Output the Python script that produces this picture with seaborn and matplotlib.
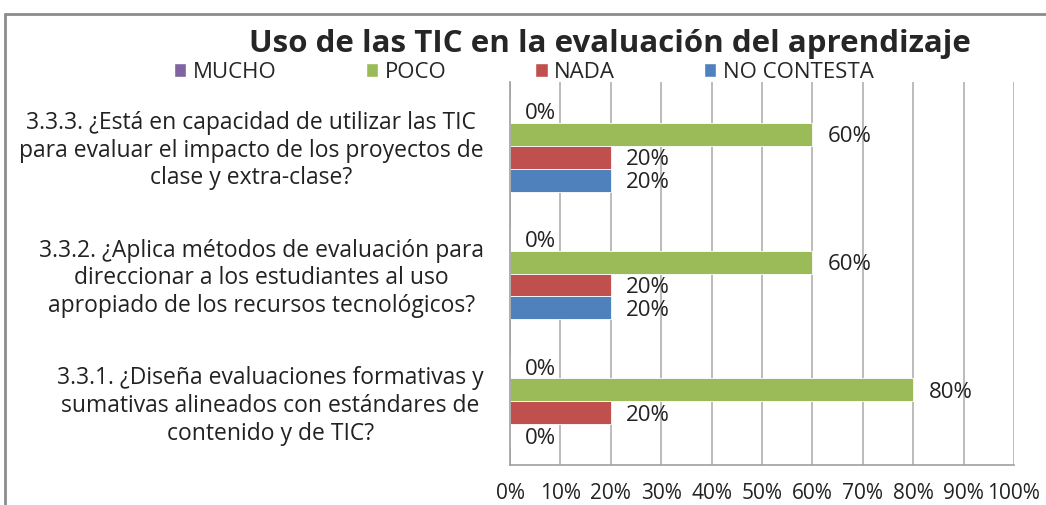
import numpy as np
import pandas as pd
import matplotlib
matplotlib.use("Agg")
import matplotlib.pyplot as plt
from matplotlib.lines import Line2D
from matplotlib.patches import Patch
import seaborn as sns

# ── Data ──────────────────────────────────────────────────────────────────────
questions = [
    "3.3.3. ¿Está en capacidad de utilizar las TIC\npara evaluar el impacto de los proyectos de\nclase y extra-clase?",
    "3.3.2. ¿Aplica métodos de evaluación para\ndireccionar a los estudiantes al uso\napropiado de los recursos tecnológicos?",
    "3.3.1. ¿Diseña evaluaciones formativas y\nsumativas alineados con estándares de\ncontenido y de TIC?",
]
levels = ["MUCHO", "POCO", "NADA", "NO CONTESTA"]
mucho = [0.0, 0.0, 0.0]
poco = [0.6, 0.6, 0.8]
nada = [0.2, 0.2, 0.2]
no_contesta = [0.2, 0.2, 0.0]
x_ticks = [0, 0.1, 0.2, 0.3, 0.4, 0.5, 0.6, 0.7, 0.8, 0.9, 1.0]

palette = ["#8064A2", "#9BBB59", "#C0504D", "#4F81BD"]

df = pd.DataFrame({
    "pregunta": questions * 4,
    "respuesta": np.repeat(levels, len(questions)),
    "valor": mucho + poco + nada + no_contesta,
})

# ── Plot ──────────────────────────────────────────────────────────────────────
sns.set_style("white")
plt.rcParams["font.family"] = ["Open Sans", "DejaVu Sans"]

fig = plt.figure(figsize=(10.46, 5.05), dpi=100)
ax = fig.add_axes([0.4876, 0.0792, 0.4818, 0.7584])

sns.barplot(
    data=df, y="pregunta", x="valor", hue="respuesta",
    order=questions, hue_order=levels, palette=palette,
    orient="h", width=0.72, saturation=1, legend=False,
    edgecolor="white", linewidth=0.6, ax=ax,
)

# value labels, sitting a touch below bar centre like the Excel original
for cont in ax.containers:
    vals = [b.get_width() for b in cont]
    texts = ax.bar_label(cont, labels=[f"{v:.0%}" for v in vals], padding=11,
                         fontsize=16, color="#222222")
    for t in texts:
        t.set_y(t.get_position()[1])
        t.set_va("center_baseline")

ax.set_xlim(0, 1)
ax.set_xticks(x_ticks)
ax.set_xticklabels([f"{t:.0%}" for t in x_ticks], fontsize=15, color="#222222")
ax.xaxis.grid(True, color="#b0b0b0", linewidth=1.2)
ax.set_axisbelow(True)
ax.set_xlabel("")
ax.set_ylabel("")
ax.tick_params(axis="x", length=5, color="#a0a0a0", width=1.2, pad=8)
ax.tick_params(axis="y", length=0, pad=19)
for lbl in ax.get_yticklabels():
    lbl.set_multialignment("center")
    lbl.set_fontsize(16.5)
    lbl.set_color("#222222")

for side in ["top", "right"]:
    ax.spines[side].set_visible(False)
ax.spines["bottom"].set_color("#a0a0a0")
ax.spines["left"].set_color("#a0a0a0")
ax.spines["bottom"].set_linewidth(1.2)
ax.spines["left"].set_linewidth(1.2)

fig.text(0.583, 0.913, "Uso de las TIC en la evaluación del aprendizaje",
         ha="center", va="center", fontsize=22.5, fontweight="bold")

handles = [Patch(facecolor=c) for c in palette]
fig.legend(handles, levels, ncol=4, loc="center", bbox_to_anchor=(0.501, 0.857),
           frameon=False, fontsize=16, handlelength=0.55, handleheight=0.55,
           handletextpad=0.3, columnspacing=4.0, borderpad=0)

# chart frame (top and left edges visible)
fig.add_artist(Line2D([0.005, 1.0], [0.972, 0.972], color="#8c8c8c", linewidth=2))
fig.add_artist(Line2D([0.005, 0.005], [0.0, 0.972], color="#8c8c8c", linewidth=2))

fig.savefig("out.png", dpi=100)
